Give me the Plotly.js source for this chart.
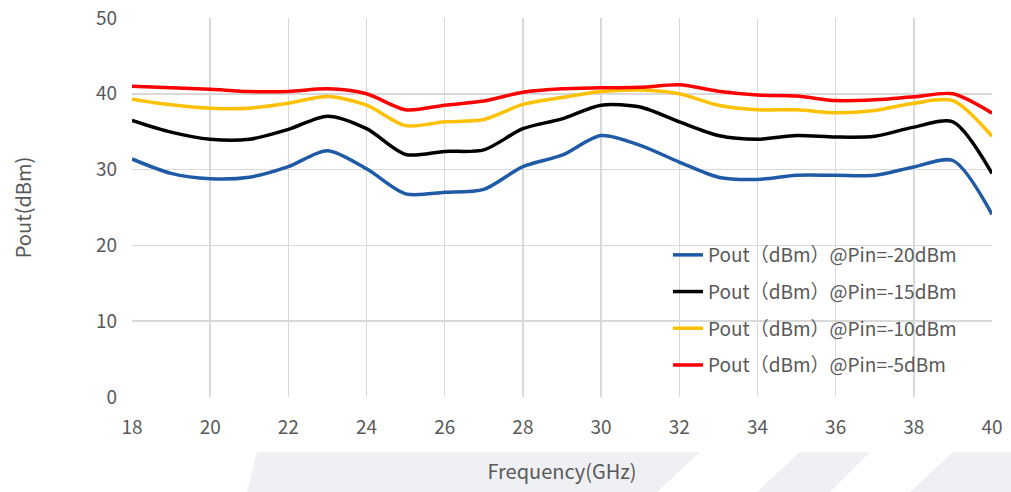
<!DOCTYPE html>
<html>
<head>
<meta charset="utf-8">
<script src="https://cdn.plot.ly/plotly-3.0.1.min.js"></script>
<style>html,body{margin:0;padding:0;background:#fff;}#chart{width:1011px;height:492px;}</style>
</head>
<body>
<div id="chart"></div>
<script>
const freq = [18,19,20,21,22,23,24,25,26,27,28,29,30,31,32,33,34,35,36,37,38,39,40];
const pin20 = [31.4,29.5,28.8,29.0,30.4,32.5,30.1,26.8,27.0,27.4,30.4,31.9,34.5,33.2,31.0,29.0,28.7,29.25,29.25,29.25,30.35,31.2,24.1];
const pin15 = [36.5,34.95,34.0,34.0,35.3,37.05,35.4,32.0,32.4,32.6,35.4,36.7,38.5,38.25,36.3,34.5,34.0,34.5,34.3,34.4,35.6,36.3,29.5];
const pin10 = [39.3,38.55,38.1,38.1,38.75,39.65,38.5,35.8,36.3,36.6,38.6,39.5,40.3,40.5,40.0,38.5,37.9,37.9,37.5,37.8,38.75,39.1,34.4];
const pin5  = [41.0,40.8,40.6,40.3,40.3,40.65,40.0,37.9,38.5,39.05,40.2,40.65,40.8,40.85,41.2,40.35,39.85,39.7,39.1,39.2,39.6,40.0,37.45];
const names = ["Pout（dBm）@Pin=-20dBm","Pout（dBm）@Pin=-15dBm","Pout（dBm）@Pin=-10dBm","Pout（dBm）@Pin=-5dBm"];
const xTicks = [18,20,22,24,26,28,30,32,34,36,38,40];
const yTicks = [0,10,20,30,40,50];

const colors = ["#1f5aa6","#000000","#ffc000","#ff0000"];
const series = [pin20,pin15,pin10,pin5];
const font = "Noto Sans CJK SC, Noto Sans, sans-serif";
const grey = "#595959";

const traces = series.map((ys,i)=>({
  x: freq, y: ys, name: names[i], type:'scatter', mode:'lines',
  line:{color:colors[i], width:3.5, shape:'spline', smoothing:0.8},
  legendgroup:'g'+i, hoverinfo:'skip'
}));

// plot area geometry (px) for decorative background shapes
const L=132, R=992, T=18, B=397, W=R-L, H=B-T;
const px=(x)=>(x-L)/W, py=(y)=>(B-y)/H;
function poly(pts){
  return 'M'+pts.map(p=>px(p[0])+','+py(p[1])).join(' L')+' Z';
}
const bgShapes = [
  [[257,452],[700,452],[657,492],[247,492]],
  [[800,452],[870,452],[830,492],[757,492]],
  [[953,452],[1011,452],[1011,492],[910,492]]
].map(p=>({type:'path', xref:'paper', yref:'paper', path:poly(p), fillcolor:'#eff0f4', line:{width:0}, layer:'below'}));

const layout = {
  width:1011, height:492,
  margin:{l:L, r:1011-R, t:T, b:492-B},
  paper_bgcolor:'#fff', plot_bgcolor:'#fff',
  font:{family:font, color:grey, size:19},
  showlegend:true,
  legend:{x:px(668), y:py(236), xanchor:'left', yanchor:'top', bgcolor:'rgba(0,0,0,0)',
    font:{family:font, size:19, color:grey}, traceorder:'grouped', tracegroupgap:9},
  xaxis:{range:[18,40], tickvals:xTicks, ticktext:xTicks.map(String), showgrid:true, gridcolor:'#d9d9d9', gridwidth:1.5,
    zeroline:false, showline:false, ticks:'', ticklabelstandoff:17, fixedrange:true, tickfont:{size:19},
    title:{text:'Frequency(GHz)', font:{family:font, size:20, color:grey}, standoff:26}},
  yaxis:{range:[0,50], tickvals:yTicks, ticktext:yTicks.map(String), showgrid:true, gridcolor:'#d9d9d9', gridwidth:1.5,
    zeroline:false, showline:false, ticks:'', ticklabelstandoff:14, fixedrange:true, tickfont:{size:19},
    title:{text:'Pout(dBm)', font:{family:font, size:20, color:grey}, standoff:58}},
  shapes: bgShapes
};
Plotly.newPlot('chart', traces, layout, {displayModeBar:false, staticPlot:true});
</script>
</body>
</html>
